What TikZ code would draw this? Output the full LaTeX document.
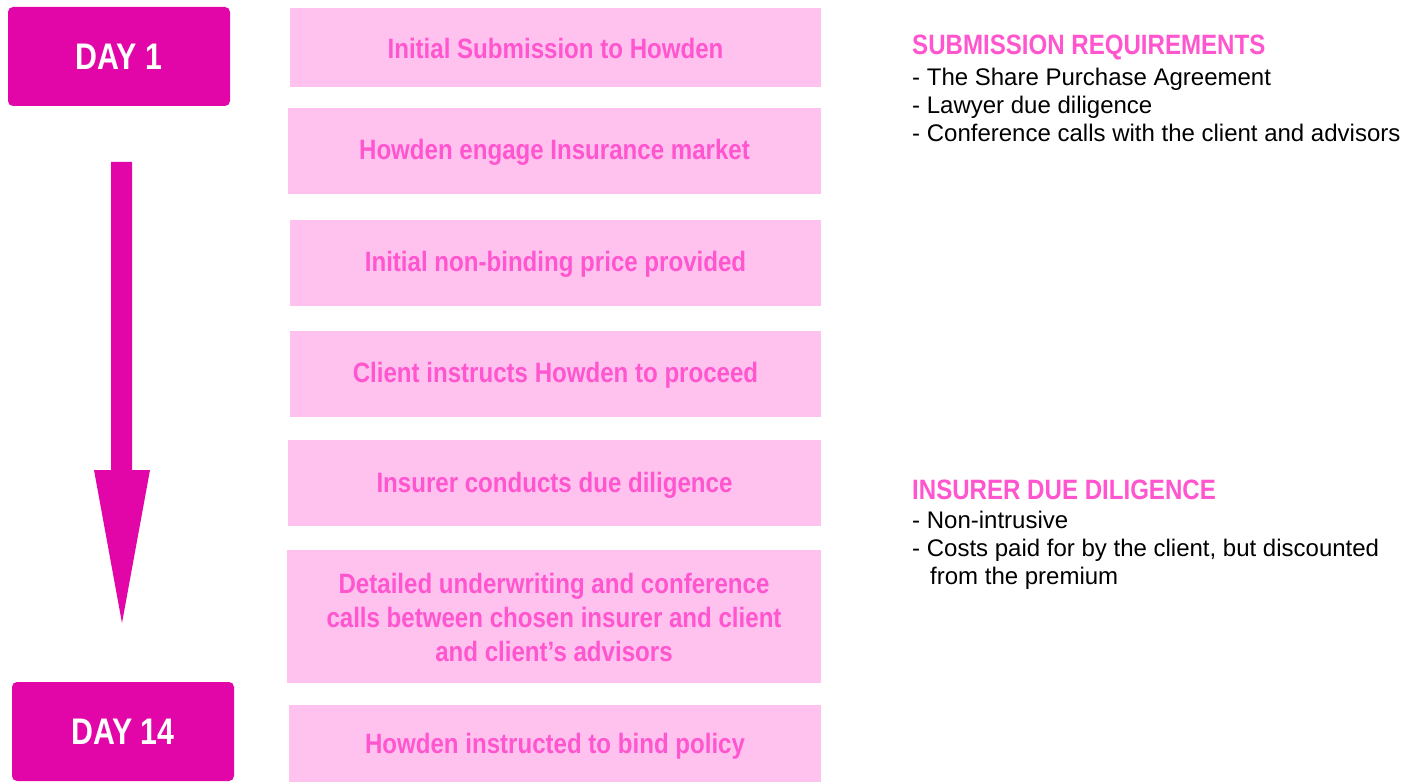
\documentclass[tikz,border=0pt]{standalone}
\usepackage{fontspec}
\setmainfont{Liberation Sans}
\newfontfamily\condfont[FakeStretch=0.86]{Liberation Sans}
\newfontfamily\dayfont[FakeStretch=0.82]{Liberation Sans}
\definecolor{daymag}{HTML}{E205A8}
\definecolor{boxpink}{HTML}{FFC2EE}
\definecolor{txtpink}{HTML}{FF55CF}
\begin{document}
\begin{tikzpicture}[x=1pt,y=-1pt,
  daybox/.style={fill=daymag,rounded corners=5pt},
  daytext/.style={text=white,font=\dayfont\bfseries\fontsize{37}{40}\selectfont},
  stepfill/.style={fill=boxpink},
  stepbox/.style={text=txtpink,align=center,font=\condfont\bfseries\fontsize{28}{34}\selectfont},
  head/.style={anchor=base west,text=txtpink,font=\condfont\bfseries\fontsize{28}{30}\selectfont,inner sep=0},
  item/.style={anchor=base west,text=black,font=\fontsize{24}{26}\selectfont,inner sep=0}]
\useasboundingbox (0,0) rectangle (1413,783);
% day boxes
\path[daybox] (8,7) rectangle (230,106);
\node[daytext] (d1) at (119,57) {DAY 1};
\path[daybox] (12,682) rectangle (234,781);
\node[daytext] (d14) at (123,732) {DAY 14};
% arrow
\fill[daymag] (111,162) -- (132,162) -- (132,470) -- (150,470) -- (122,623) -- (94,470) -- (111,470) -- cycle;
% step boxes
\path[stepfill] (290,8) rectangle (821,87);
\node[stepbox] (s1) at (555.5,48) {Initial Submission to Howden};
\path[stepfill] (288,108) rectangle (821,194);
\node[stepbox] (s2) at (554.5,152) {Howden engage Insurance market};
\path[stepfill] (290,220) rectangle (821,306);
\node[stepbox] (s3) at (555.5,264) {Initial non-binding price provided};
\path[stepfill] (290,331) rectangle (821,417);
\node[stepbox] (s4) at (555.5,375) {Client instructs Howden to proceed};
\path[stepfill] (288,440) rectangle (821,526);
\node[stepbox] (s5) at (554.5,485) {Insurer conducts due diligence};
\path[stepfill] (287,550) rectangle (821,683);
\node[stepbox] (s6) at (554,617) {Detailed underwriting and conference\\calls between chosen insurer and client\\and client’s advisors};
\path[stepfill] (289,705) rectangle (821,782);
\node[stepbox] (s7) at (555,746) {Howden instructed to bind policy};
% right texts
\node[head] (h1) at (912,55) {SUBMISSION REQUIREMENTS};
\node[item] (i1) at (912,86) {- The Share Purchase Agreement};
\node[item] (i2) at (912,114) {- Lawyer due diligence};
\node[item] (i3) at (912,142) {- Conference calls with the client and advisors};
\node[head] (h2) at (912,499) {INSURER DUE DILIGENCE};
\node[item] (j1) at (912,528) {- Non-intrusive};
\node[item] (j2) at (912,556) {- Costs paid for by the client, but discounted};
\node[item] (j3) at (912,584) {\hspace{0.75em}from the premium};
\end{tikzpicture}
\end{document}
